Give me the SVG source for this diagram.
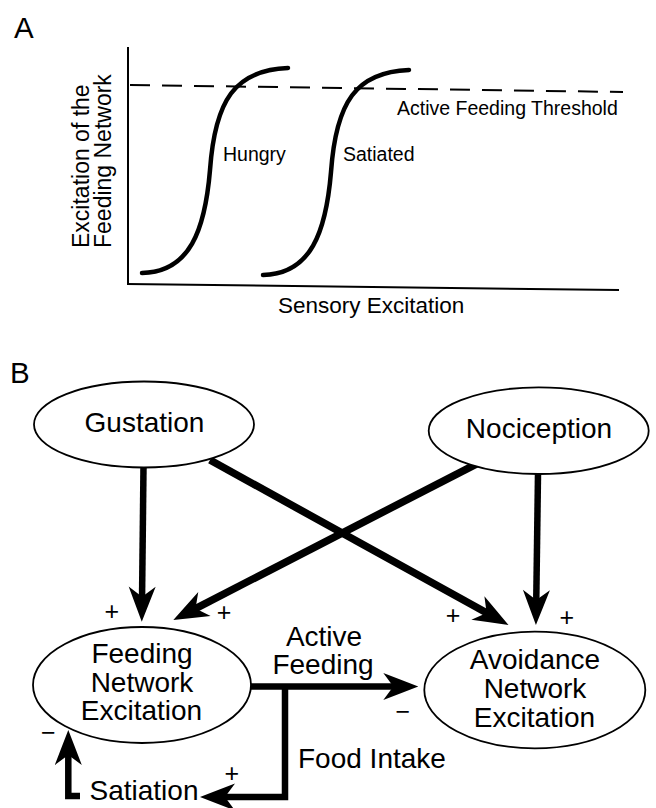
<svg xmlns="http://www.w3.org/2000/svg" width="656" height="808" viewBox="0 0 656 808">
<style>
text{font-family:"Liberation Sans",Arial,Helvetica,sans-serif;fill:#000}
.lbl{font-size:19.5px}
.ax{font-size:23px}
.big{font-size:29.5px}
.nd{font-size:28px;text-anchor:middle}
.sg{font-size:25px;text-anchor:middle}
.ell{fill:#fff;stroke:#000;stroke-width:1.8}
.con{fill:none;stroke:#000;stroke-width:6.5;stroke-linejoin:miter;marker-end:url(#ah)}
.curve{fill:none;stroke:#000;stroke-width:4.5;stroke-linecap:round}
</style>
<defs>
<marker id="ah" markerUnits="userSpaceOnUse" viewBox="-38 -15 40 30" markerWidth="40" markerHeight="30" refX="-20" refY="0" orient="auto">
<path d="M0,0 Q-18,-7 -35,-13.5 L-25,0 L-35,13.5 Q-18,7 0,0 Z" fill="#000"/>
</marker>
</defs>
<rect width="656" height="808" fill="#fff"/>

<g id="panelA">
<text class="big" x="14" y="38">A</text>
<line x1="128" y1="47" x2="128" y2="284" stroke="#000" stroke-width="2"/>
<line x1="127" y1="284" x2="619" y2="290" stroke="#000" stroke-width="2"/>
<line x1="130" y1="85" x2="623" y2="92" stroke="#000" stroke-width="2" stroke-dasharray="20 12"/>
<path class="curve" d="M142,273 C190,272 205,230 210,170 C215,100 235,70 288,68"/>
<path class="curve" d="M263,275 C311,274 326,232 331,172 C336,102 356,72 409,70"/>
<text class="lbl" x="223" y="161">Hungry</text>
<text class="lbl" x="343" y="161">Satiated</text>
<text class="lbl" x="397" y="115">Active Feeding Threshold</text>
<text class="ax" x="278" y="313" style="font-size:22.5px">Sensory Excitation</text>
<text class="ax" transform="translate(89,248) rotate(-90)">Excitation of the</text>
<text class="ax" transform="translate(111,248) rotate(-90)">Feeding Network</text>
</g>

<text class="big" x="10" y="383">B</text>

<g id="connectors">
<path class="con" d="M143.5,467 L142,601.7"/>
<path class="con" d="M538,474 L536.2,605"/>
<path class="con" style="stroke-width:7.5" d="M210,460 L491,615.3"/>
<path class="con" style="stroke-width:7.5" d="M477.7,463.3 L191.1,610.8"/>
<path class="con" d="M250,686.5 L398.3,686.5"/>
<path class="con" d="M285,684 V797 H220"/>
<path class="con" d="M80,796 H68.3 V750"/>
</g>

<g id="gustation">
<ellipse class="ell" cx="144" cy="424.5" rx="110" ry="43"/>
<text class="nd" x="144.5" y="431.7">Gustation</text>
</g>
<g id="nociception">
<ellipse class="ell" cx="538.7" cy="430.7" rx="110" ry="43.3"/>
<text class="nd" x="539" y="438.3">Nociception</text>
</g>
<g id="feeding">
<ellipse class="ell" cx="142" cy="685" rx="109" ry="58"/>
<text class="nd" x="142" y="663.3">Feeding</text>
<text class="nd" x="142" y="691.7">Network</text>
<text class="nd" x="141.5" y="720">Excitation</text>
</g>
<g id="avoidance">
<ellipse class="ell" cx="534.8" cy="690" rx="110.5" ry="58.3"/>
<text class="nd" x="535" y="669.3">Avoidance</text>
<text class="nd" x="535" y="698.3">Network</text>
<text class="nd" x="534.5" y="726.7">Excitation</text>
</g>
<g id="satiation">
<text class="nd" x="144" y="800">Satiation</text>
</g>

<g id="labels">
<text class="nd" x="324" y="645.5">Active</text>
<text class="nd" x="323" y="673.5">Feeding</text>
<text class="nd" x="298" y="768.3" style="text-anchor:start">Food Intake</text>
<text class="sg" x="111.7" y="619.6">+</text>
<text class="sg" x="224" y="621">+</text>
<text class="sg" x="453" y="623.8">+</text>
<text class="sg" x="566.7" y="625.5">+</text>
<text class="sg" x="231.7" y="782">+</text>
<text class="sg" x="48.3" y="741.4">−</text>
<text class="sg" x="402.7" y="720.4">−</text>
</g>
</svg>
